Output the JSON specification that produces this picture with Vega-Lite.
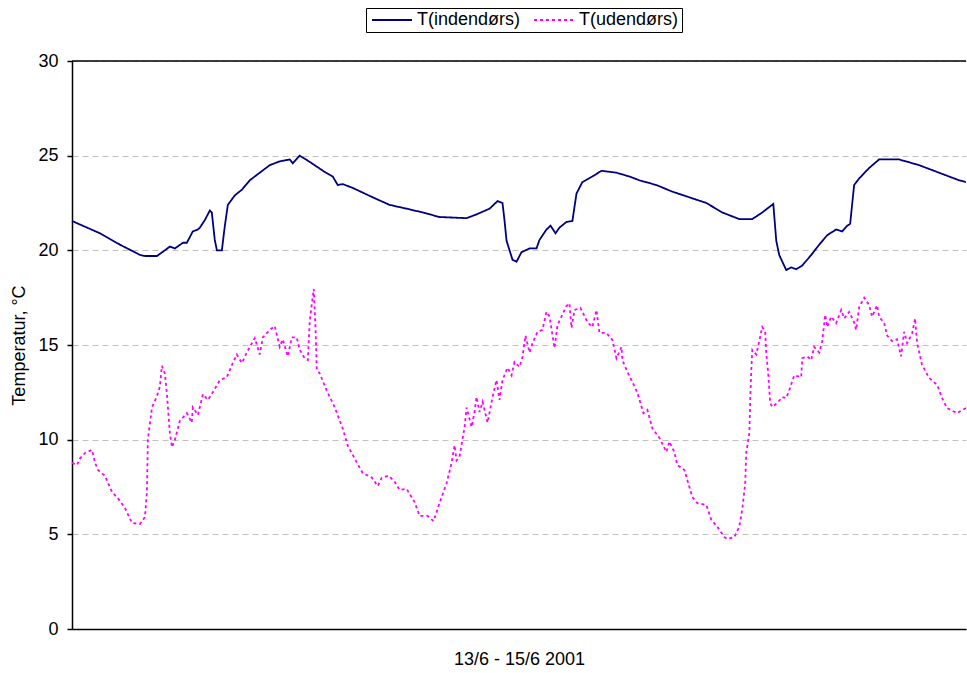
{
  "$schema": "https://vega.github.io/schema/vega-lite/v6.json",
  "width": 894,
  "height": 568,
  "autosize": {"type": "none"},
  "padding": {"left": 72, "top": 61, "right": 1, "bottom": 44},
  "background": "white",
  "config": {
    "view": {"stroke": null},
    "font": "Liberation Sans"
  },
  "datasets": {
    "ind": [
      {"t":0,"T":21.55},{"t":2.25,"T":20.9},{"t":3.86,"T":20.3},{"t":5.47,"T":19.76},{"t":5.87,"T":19.7},{"t":6.84,"T":19.7},{"t":7.48,"T":20.0},{"t":7.88,"T":20.2},{"t":8.29,"T":20.1},{"t":8.93,"T":20.4},{"t":9.25,"T":20.4},{"t":9.73,"T":21.0},{"t":10.14,"T":21.1},{"t":10.3,"T":21.2},{"t":10.7,"T":21.6},{"t":11.1,"T":22.1},{"t":11.26,"T":22.0},{"t":11.5,"T":20.55},{"t":11.67,"T":20.0},{"t":12.07,"T":20.0},{"t":12.31,"T":21.3},{"t":12.55,"T":22.4},{"t":13.11,"T":22.9},{"t":13.68,"T":23.2},{"t":14.32,"T":23.7},{"t":15.12,"T":24.1},{"t":15.93,"T":24.5},{"t":16.73,"T":24.7},{"t":17.54,"T":24.8},{"t":17.78,"T":24.6},{"t":18.34,"T":25.0},{"t":19.15,"T":24.67},{"t":20.35,"T":24.14},{"t":21.0,"T":23.9},{"t":21.4,"T":23.45},{"t":21.8,"T":23.5},{"t":22.6,"T":23.3},{"t":24.22,"T":22.8},{"t":25.58,"T":22.4},{"t":26.95,"T":22.2},{"t":28.24,"T":22.0},{"t":29.6,"T":21.76},{"t":31.78,"T":21.7},{"t":32.58,"T":21.9},{"t":33.63,"T":22.2},{"t":34.27,"T":22.6},{"t":34.67,"T":22.5},{"t":34.83,"T":21.6},{"t":35.0,"T":20.5},{"t":35.24,"T":20.0},{"t":35.48,"T":19.5},{"t":35.8,"T":19.4},{"t":36.2,"T":19.9},{"t":36.85,"T":20.1},{"t":37.41,"T":20.1},{"t":37.65,"T":20.55},{"t":38.21,"T":21.1},{"t":38.54,"T":21.3},{"t":38.94,"T":20.9},{"t":39.26,"T":21.2},{"t":39.82,"T":21.5},{"t":40.3,"T":21.55},{"t":40.63,"T":23.0},{"t":41.1,"T":23.6},{"t":41.91,"T":23.9},{"t":42.64,"T":24.2},{"t":43.85,"T":24.1},{"t":44.89,"T":23.9},{"t":45.7,"T":23.7},{"t":47.06,"T":23.45},{"t":48.35,"T":23.1},{"t":49.72,"T":22.8},{"t":51.09,"T":22.5},{"t":52.37,"T":22.0},{"t":53.74,"T":21.65},{"t":54.79,"T":21.65},{"t":55.59,"T":22.0},{"t":56.48,"T":22.45},{"t":56.72,"T":20.5},{"t":56.96,"T":19.75},{"t":57.52,"T":18.96},{"t":57.92,"T":19.1},{"t":58.33,"T":19.0},{"t":58.81,"T":19.2},{"t":59.53,"T":19.75},{"t":60.18,"T":20.3},{"t":60.82,"T":20.8},{"t":61.54,"T":21.1},{"t":62.03,"T":21.0},{"t":62.43,"T":21.3},{"t":62.67,"T":21.4},{"t":62.99,"T":23.45},{"t":63.4,"T":23.8},{"t":64.2,"T":24.35},{"t":65.0,"T":24.8},{"t":66.61,"T":24.8},{"t":68.22,"T":24.5},{"t":69.83,"T":24.1},{"t":71.44,"T":23.7},{"t":72.0,"T":23.6}
    ],
    "out": [
      {"t":0,"T":8.77},{"t":0.4,"T":8.66},{"t":0.64,"T":9.0},{"t":1.05,"T":9.3},{"t":1.61,"T":9.46},{"t":1.85,"T":8.8},{"t":2.09,"T":8.4},{"t":2.65,"T":8.1},{"t":3.22,"T":7.24},{"t":3.7,"T":6.9},{"t":4.26,"T":6.4},{"t":4.83,"T":5.6},{"t":5.47,"T":5.55},{"t":5.87,"T":5.9},{"t":6.03,"T":7.2},{"t":6.11,"T":10.0},{"t":6.44,"T":11.7},{"t":6.84,"T":12.3},{"t":7.08,"T":12.8},{"t":7.24,"T":13.9},{"t":7.48,"T":13.5},{"t":7.64,"T":12.45},{"t":7.88,"T":10.35},{"t":8.05,"T":9.6},{"t":8.29,"T":10.0},{"t":8.69,"T":11.0},{"t":9.25,"T":11.4},{"t":9.65,"T":10.9},{"t":9.73,"T":11.7},{"t":10.14,"T":11.3},{"t":10.54,"T":12.4},{"t":10.94,"T":12.1},{"t":11.34,"T":12.5},{"t":11.91,"T":13.15},{"t":12.47,"T":13.3},{"t":12.95,"T":14.05},{"t":13.27,"T":14.5},{"t":13.68,"T":14.05},{"t":14.08,"T":14.6},{"t":14.32,"T":14.9},{"t":14.72,"T":15.37},{"t":15.12,"T":14.5},{"t":15.37,"T":15.4},{"t":15.93,"T":15.8},{"t":16.33,"T":16.0},{"t":16.73,"T":14.9},{"t":16.97,"T":15.3},{"t":17.38,"T":14.4},{"t":17.7,"T":15.4},{"t":18.1,"T":15.4},{"t":18.34,"T":14.75},{"t":18.74,"T":14.3},{"t":18.99,"T":14.2},{"t":19.15,"T":16.3},{"t":19.47,"T":17.96},{"t":19.63,"T":15.6},{"t":19.71,"T":13.7},{"t":19.95,"T":13.5},{"t":20.51,"T":12.6},{"t":21.16,"T":11.7},{"t":21.8,"T":10.6},{"t":22.2,"T":9.7},{"t":22.93,"T":8.8},{"t":23.41,"T":8.24},{"t":24.14,"T":8.0},{"t":24.62,"T":7.55},{"t":24.94,"T":7.98},{"t":25.5,"T":8.1},{"t":25.99,"T":7.77},{"t":26.39,"T":7.34},{"t":26.95,"T":7.4},{"t":27.59,"T":6.7},{"t":28.0,"T":5.97},{"t":28.64,"T":5.97},{"t":29.12,"T":5.7},{"t":29.6,"T":6.65},{"t":30.17,"T":7.7},{"t":30.57,"T":8.77},{"t":30.81,"T":9.7},{"t":30.97,"T":8.9},{"t":31.21,"T":9.1},{"t":31.62,"T":10.67},{"t":31.78,"T":11.7},{"t":32.18,"T":10.67},{"t":32.42,"T":11.46},{"t":32.58,"T":12.25},{"t":32.82,"T":11.46},{"t":33.07,"T":12.0},{"t":33.47,"T":10.9},{"t":33.87,"T":12.25},{"t":34.19,"T":13.15},{"t":34.43,"T":12.1},{"t":34.67,"T":13.15},{"t":35.08,"T":13.8},{"t":35.4,"T":13.4},{"t":35.64,"T":14.1},{"t":36.04,"T":13.84},{"t":36.28,"T":14.37},{"t":36.52,"T":15.5},{"t":36.85,"T":14.6},{"t":37.09,"T":15.1},{"t":37.49,"T":15.7},{"t":37.89,"T":15.8},{"t":38.21,"T":16.75},{"t":38.46,"T":16.5},{"t":38.86,"T":14.84},{"t":39.1,"T":16.06},{"t":39.42,"T":16.5},{"t":39.82,"T":17.06},{"t":40.06,"T":17.2},{"t":40.23,"T":15.9},{"t":40.47,"T":16.85},{"t":40.95,"T":16.96},{"t":41.51,"T":16.2},{"t":41.91,"T":15.95},{"t":42.24,"T":16.85},{"t":42.48,"T":15.64},{"t":43.04,"T":15.64},{"t":43.52,"T":15.27},{"t":43.85,"T":14.3},{"t":44.25,"T":14.9},{"t":44.33,"T":14.2},{"t":44.73,"T":13.58},{"t":45.13,"T":13.05},{"t":45.54,"T":12.47},{"t":46.02,"T":11.4},{"t":46.34,"T":11.57},{"t":46.74,"T":10.6},{"t":47.3,"T":10.1},{"t":47.87,"T":9.35},{"t":48.11,"T":9.9},{"t":48.51,"T":9.35},{"t":48.75,"T":8.66},{"t":49.32,"T":8.4},{"t":49.96,"T":6.97},{"t":50.36,"T":6.65},{"t":51.09,"T":6.55},{"t":51.49,"T":5.76},{"t":51.97,"T":5.4},{"t":52.53,"T":4.86},{"t":52.78,"T":4.75},{"t":53.34,"T":4.86},{"t":53.74,"T":5.4},{"t":53.98,"T":6.3},{"t":54.22,"T":7.7},{"t":54.3,"T":9.3},{"t":54.55,"T":10.35},{"t":54.63,"T":12.25},{"t":54.71,"T":13.7},{"t":54.79,"T":14.74},{"t":55.11,"T":14.5},{"t":55.35,"T":15.2},{"t":55.59,"T":15.95},{"t":55.83,"T":15.7},{"t":55.91,"T":14.6},{"t":56.07,"T":13.5},{"t":56.23,"T":11.94},{"t":56.4,"T":11.73},{"t":56.8,"T":11.94},{"t":57.2,"T":12.25},{"t":57.52,"T":12.2},{"t":57.76,"T":12.6},{"t":58.17,"T":13.4},{"t":58.73,"T":13.3},{"t":58.81,"T":14.3},{"t":59.21,"T":14.4},{"t":59.53,"T":14.2},{"t":59.77,"T":14.9},{"t":60.18,"T":14.6},{"t":60.42,"T":15.2},{"t":60.66,"T":16.6},{"t":60.82,"T":15.95},{"t":61.14,"T":16.5},{"t":61.54,"T":16.15},{"t":61.95,"T":16.85},{"t":62.19,"T":16.4},{"t":62.59,"T":16.75},{"t":62.99,"T":16.2},{"t":63.15,"T":15.8},{"t":63.4,"T":17.0},{"t":63.8,"T":17.5},{"t":64.2,"T":17.1},{"t":64.44,"T":16.5},{"t":64.84,"T":17.1},{"t":65.0,"T":16.5},{"t":65.41,"T":16.15},{"t":65.65,"T":15.5},{"t":66.05,"T":15.2},{"t":66.45,"T":15.3},{"t":66.77,"T":14.4},{"t":67.02,"T":15.7},{"t":67.26,"T":15.1},{"t":67.66,"T":15.6},{"t":67.9,"T":16.4},{"t":68.06,"T":15.1},{"t":68.46,"T":13.95},{"t":69.03,"T":13.26},{"t":69.67,"T":12.9},{"t":70.07,"T":12.2},{"t":70.47,"T":11.67},{"t":71.28,"T":11.4},{"t":72.0,"T":11.67}
    ],
    "top": [{"T": 30}]
  },
  "encoding": {
    "x": {"field": "t", "type": "quantitative", "scale": {"domain": [0, 72], "nice": false},
      "axis": {"title": "13/6 - 15/6 2001", "labels": false, "ticks": false, "grid": false, "domainColor": "black", "domainWidth": 1.5, "titleFont": "Liberation Sans", "titleFontSize": 18, "titleFontWeight": "normal", "titleColor": "black", "titlePadding": 21}},
    "y": {"field": "T", "type": "quantitative", "scale": {"domain": [0, 30], "nice": false},
      "axis": {"title": "Temperatur, °C", "values": [0, 5, 10, 15, 20, 25, 30], "grid": true, "gridDash": [6, 4], "gridColor": "#c0c0c0", "gridWidth": 1, "domainColor": "black", "domainWidth": 1.5, "tickColor": "black", "tickSize": 5, "tickWidth": 1.5, "labelFont": "Liberation Sans", "labelFontSize": 18, "labelColor": "black", "labelPadding": 9, "titleFont": "Liberation Sans", "titleFontSize": 18, "titleFontWeight": "normal", "titleColor": "black", "titlePadding": 9}},
    "color": {"field": "s", "type": "nominal", "scale": {"domain": ["T(indendørs)", "T(udendørs)"], "range": ["#000080", "#FF00FF"]},
      "legend": {"title": null, "orient": "none", "legendX": 294, "legendY": -53, "direction": "horizontal", "strokeColor": "black", "fillColor": "white", "padding": 3, "symbolType": "M-1.2,0H6.8", "symbolSize": 100, "symbolStrokeWidth": 2, "labelFont": "Liberation Sans", "labelFontSize": 18, "labelColor": "black", "columnPadding": 9, "labelOffset": 30}},
    "strokeDash": {"field": "s", "type": "nominal", "scale": {"domain": ["T(indendørs)", "T(udendørs)"], "range": [[1, 0], [3, 3]]},
      "legend": {"title": null, "orient": "none", "legendX": 294, "legendY": -53, "direction": "horizontal", "strokeColor": "black", "fillColor": "white", "padding": 3, "symbolType": "M-1.2,0H6.8", "symbolSize": 100, "symbolStrokeWidth": 2, "labelFont": "Liberation Sans", "labelFontSize": 18, "labelColor": "black", "columnPadding": 9, "labelOffset": 30}}
  },
  "layer": [
    {
      "data": {"name": "ind"},
      "transform": [{"calculate": "'T(indendørs)'", "as": "s"}],
      "mark": {"type": "line", "strokeWidth": 1.8}
    },
    {
      "data": {"name": "out"},
      "transform": [{"calculate": "'T(udendørs)'", "as": "s"}],
      "mark": {"type": "line", "strokeWidth": 1.8}
    },
    {
      "data": {"name": "top"},
      "mark": {"type": "rule", "color": "black", "strokeWidth": 1.5},
      "encoding": {"x": null, "color": null, "strokeDash": null}
    }
  ]
}
